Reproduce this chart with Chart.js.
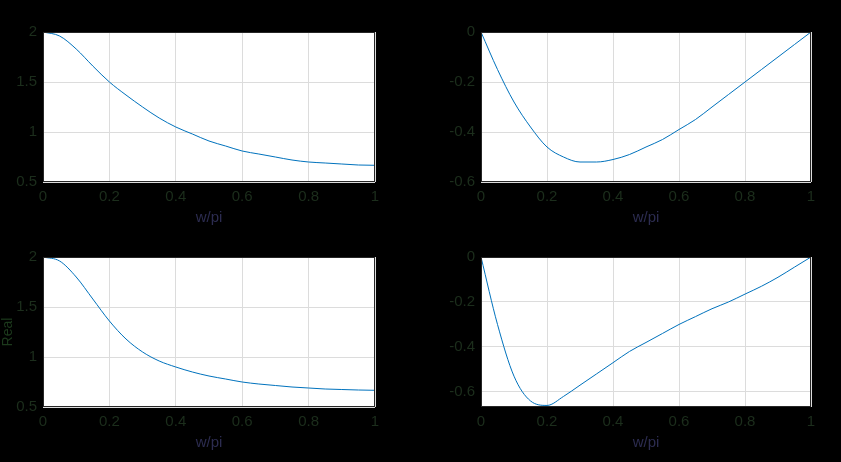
<!DOCTYPE html><html><head><style>
body{margin:0;background:#000;width:841px;height:462px;overflow:hidden;position:relative}
.c{position:absolute;width:420px;height:231px}
</style><script src="https://cdn.jsdelivr.net/npm/chart.js@4"></script></head><body>
<div class="c" style="left:0;top:0"><canvas id="c1"></canvas></div>
<div class="c" style="left:421px;top:0"><canvas id="c2"></canvas></div>
<div class="c" style="left:0;top:225px"><canvas id="c3"></canvas></div>
<div class="c" style="left:421px;top:225px"><canvas id="c4"></canvas></div>
<script>
const wx=[0,.05,.1,.15,.2,.25,.3,.35,.4,.45,.5,.55,.6,.65,.7,.75,.8,.85,.9,.95,1];
const magTop=[2,1.96,1.83,1.66,1.5,1.37,1.25,1.14,1.05,0.98,0.91,0.86,0.81,0.78,0.75,0.72,0.70,0.69,0.68,0.67,0.667];
const phaseTop=[0,-0.15,-0.28,-0.38,-0.46,-0.50,-0.52,-0.52,-0.51,-0.49,-0.46,-0.43,-0.39,-0.35,-0.30,-0.25,-0.20,-0.15,-0.10,-0.05,0];
const magBot=[2,1.96,1.80,1.58,1.36,1.18,1.05,0.96,0.90,0.85,0.81,0.78,0.75,0.73,0.715,0.70,0.69,0.68,0.675,0.67,0.667];
const phaseBot=[0,-0.30,-0.53,-0.64,-0.66,-0.62,-0.57,-0.52,-0.47,-0.42,-0.38,-0.34,-0.30,-0.265,-0.23,-0.20,-0.165,-0.13,-0.09,-0.045,0];
const xTicks=[0,0.2,0.4,0.6,0.8,1];
const bg={id:'bg',beforeDraw(c){const a=c.chartArea,x=c.ctx;x.save();x.fillStyle='#fff';x.fillRect(a.left,a.top,a.right-a.left,a.bottom-a.top);x.restore();},
afterDraw(c){const a=c.chartArea,x=c.ctx;x.save();x.strokeStyle='#262626';x.lineWidth=1;x.strokeRect(a.left+.5,a.top+.5,a.right-a.left-1,a.bottom-a.top-1);x.restore();}};
function mk(id,ys,min,max,step,yw,padR,top,ylab){
 new Chart(document.getElementById(id),{type:'line',data:{datasets:[{data:wx.map((v,i)=>({x:v,y:ys[i]})),borderColor:'#0072BD',borderWidth:1,pointRadius:0,cubicInterpolationMode:'monotone'}]},
 options:{animation:false,responsive:true,maintainAspectRatio:false,layout:{padding:{left:0,right:padR,top:top,bottom:0}},
 plugins:{legend:{display:false},tooltip:{enabled:false}},
 scales:{x:{type:'linear',min:0,max:1,afterBuildTicks:s=>{s.ticks=xTicks.map(v=>({value:v}));},afterFit:s=>{s.height=49;},
  grid:{color:'#dcdcdc',drawTicks:false},border:{display:false},ticks:{color:'#1c2e1c',padding:6,callback:v=>String(v),font:{family:'Liberation Sans',size:15}},
  title:{display:true,text:'w/pi',color:'#2c2c50',padding:{top:2},font:{family:'Liberation Sans',size:15}}},
 y:{min:min,max:max,afterBuildTicks:s=>{const t=[];for(let v=max;v>=min-1e-9;v-=step)t.push({value:+v.toFixed(2)});s.ticks=t.filter(o=>o.value>=min);},
  afterFit:s=>{s.width=yw;},grid:{color:'#dcdcdc',drawTicks:false},border:{display:false},
  ticks:{color:'#1c2e1c',padding:6,callback:v=>String(v),font:{family:'Liberation Sans',size:15}},
  title:{display:!!ylab,text:ylab,color:'#1c3a1c',padding:0,font:{family:'Liberation Sans',size:14}}}}},plugins:[bg]});
}
mk('c1',magTop,0.5,2,0.5,43,45,32,'');
mk('c2',phaseTop,-0.6,0,0.2,60,30,32,'');
mk('c3',magBot,0.5,2,0.5,43,45,32,'Real');
mk('c4',phaseBot,-0.667,0,0.2,60,30,32,'');
</script></body></html>
